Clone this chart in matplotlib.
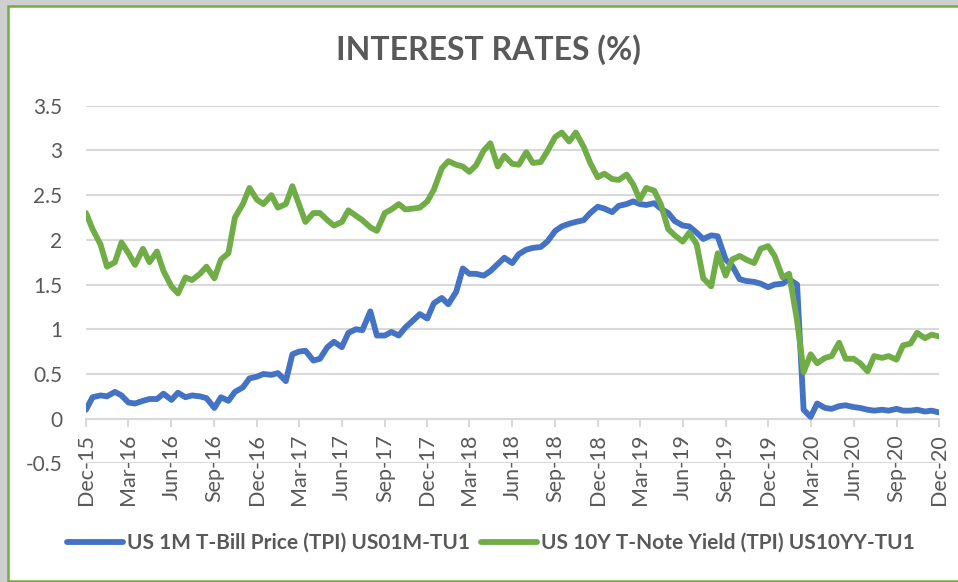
import matplotlib
matplotlib.use("Agg")
import matplotlib.pyplot as plt
import pandas as pd
from matplotlib.patches import Rectangle

plt.rcParams['font.family'] = ['Lato', 'DejaVu Sans']

# ---- data (semi-monthly readings from Dec-2015 to Dec-2020) ----
dates = pd.date_range('2015-12-01', '2020-12-01', freq='SMS')

us1m_tbill = [
    0.10, 0.24, 0.26, 0.25, 0.30, 0.26, 0.18, 0.17, 0.20, 0.22,
    0.22, 0.28, 0.21, 0.29, 0.24, 0.26, 0.25, 0.23, 0.12, 0.24,
    0.20, 0.30, 0.35, 0.45, 0.47, 0.50, 0.49, 0.51, 0.42, 0.72,
    0.75, 0.76, 0.65, 0.67, 0.80, 0.86, 0.80, 0.96, 1.00, 0.99,
    1.20, 0.93, 0.93, 0.97, 0.93, 1.02, 1.10, 1.17, 1.12, 1.29,
    1.35, 1.28, 1.42, 1.68, 1.62, 1.62, 1.60, 1.65, 1.73, 1.80,
    1.74, 1.84, 1.89, 1.91, 1.92, 1.98, 2.10, 2.15, 2.18, 2.20,
    2.22, 2.30, 2.37, 2.35, 2.31, 2.38, 2.40, 2.43, 2.40, 2.39,
    2.41, 2.35, 2.30, 2.21, 2.16, 2.15, 2.08, 2.01, 2.05, 2.04,
    1.78, 1.71, 1.56, 1.54, 1.53, 1.51, 1.47, 1.50, 1.51, 1.56,
    1.50, 0.10, 0.02, 0.17, 0.12, 0.11, 0.14, 0.15, 0.13, 0.12,
    0.10, 0.09, 0.10, 0.09, 0.11, 0.09, 0.09, 0.10, 0.08, 0.09,
    0.07,
]

us10y_tnote = [
    2.30, 2.12, 1.95, 1.70, 1.75, 1.97, 1.85, 1.72, 1.90, 1.75,
    1.87, 1.65, 1.48, 1.40, 1.58, 1.55, 1.62, 1.70, 1.57, 1.78,
    1.85, 2.25, 2.40, 2.58, 2.45, 2.40, 2.50, 2.36, 2.40, 2.60,
    2.40, 2.20, 2.30, 2.30, 2.22, 2.16, 2.20, 2.33, 2.27, 2.22,
    2.14, 2.10, 2.30, 2.34, 2.40, 2.34, 2.35, 2.36, 2.43, 2.56,
    2.80, 2.88, 2.84, 2.82, 2.76, 2.83, 3.00, 3.08, 2.82, 2.94,
    2.85, 2.84, 2.98, 2.86, 2.87, 2.99, 3.15, 3.20, 3.10, 3.20,
    3.04, 2.86, 2.70, 2.74, 2.68, 2.67, 2.73, 2.62, 2.45, 2.58,
    2.55, 2.40, 2.12, 2.05, 1.98, 2.08, 1.95, 1.57, 1.48, 1.85,
    1.60, 1.78, 1.82, 1.78, 1.74, 1.90, 1.93, 1.82, 1.58, 1.62,
    1.10, 0.52, 0.72, 0.62, 0.68, 0.70, 0.85, 0.67, 0.67, 0.62,
    0.53, 0.70, 0.68, 0.70, 0.66, 0.82, 0.84, 0.96, 0.90, 0.94,
    0.92,
]

series_labels = ['US 1M T-Bill Price (TPI) US01M-TU1',
                 'US 10Y T-Note Yield (TPI) US10YY-TU1']
x_ticks = pd.date_range('2015-12-01', '2020-12-01', freq='3MS')
x_tick_labels = ['Dec-15', 'Mar-16', 'Jun-16', 'Sep-16', 'Dec-16', 'Mar-17',
                 'Jun-17', 'Sep-17', 'Dec-17', 'Mar-18', 'Jun-18', 'Sep-18',
                 'Dec-18', 'Mar-19', 'Jun-19', 'Sep-19', 'Dec-19', 'Mar-20',
                 'Jun-20', 'Sep-20', 'Dec-20']
y_ticks = [-0.5, 0, 0.5, 1, 1.5, 2, 2.5, 3, 3.5]
y_tick_labels = ['-0.5', '0', '0.5', '1', '1.5', '2', '2.5', '3', '3.5']

BLUE = '#4472C4'
GREEN = '#70AD47'
TXT = '#595959'
GRID = '#d9d9d9'

W, H = 958, 582
fig = plt.figure(figsize=(W / 100, H / 100), dpi=100)
fig.patch.set_facecolor('white')

# frame with soft shadow
fig.patches.append(Rectangle((0, 0), 1, 1, transform=fig.transFigure,
                             facecolor='#cfcfcf', edgecolor='none', zorder=-3))
fig.patches.append(Rectangle((8 / W, 1 / H), 1.0, 575 / H,
                             transform=fig.transFigure, facecolor='white',
                             edgecolor=GREEN, linewidth=1.8, zorder=-2))

ax = fig.add_axes([86 / W, 1 - 463.4 / H, (939 - 86) / W, (463.4 - 105.7) / H])
ax.set_facecolor('none')

ax.plot(dates, us1m_tbill, color=BLUE, lw=4.2, label=series_labels[0],
        solid_joinstyle='round', solid_capstyle='round', zorder=3)
ax.plot(dates, us10y_tnote, color=GREEN, lw=4.2, label=series_labels[1],
        solid_joinstyle='round', solid_capstyle='round', zorder=4)

ax.set_xlim(dates[0], dates[-1])
ax.set_ylim(-0.5, 3.5)

ax.set_yticks(y_ticks)
ax.set_yticklabels(y_tick_labels)
ax.set_xticks(x_ticks)
ax.set_xticklabels(x_tick_labels)

for s in ['top', 'right', 'left']:
    ax.spines[s].set_visible(False)
ax.spines['bottom'].set_position(('data', 0))
ax.spines['bottom'].set_color(GRID)
ax.spines['bottom'].set_linewidth(1.5)

ax.yaxis.grid(True, color=GRID, lw=1.5)
ax.set_axisbelow(True)

ax.tick_params(axis='y', length=0, pad=17, labelsize=15, labelcolor=TXT)
ax.tick_params(axis='x', length=6, width=1.5, color=GRID, pad=5,
               labelsize=15.5, labelcolor=TXT, labelrotation=90)
for lbl in ax.get_xticklabels():
    lbl.set_rotation(90)
    lbl.set_ha('center')
    lbl.set_va('top')

fig.text(488 / W, 1 - 50 / H, 'INTEREST RATES (%)', ha='center', va='center',
         fontsize=23, fontweight='bold', color=TXT)

fig.legend(loc='center', bbox_to_anchor=(491 / W, 1 - 543 / H), ncol=2,
           frameon=False, prop=dict(weight='bold', size=15),
           labelcolor=TXT, handlelength=2.7, handletextpad=0.2,
           columnspacing=0.5)

fig.savefig('out.png', dpi=100)
